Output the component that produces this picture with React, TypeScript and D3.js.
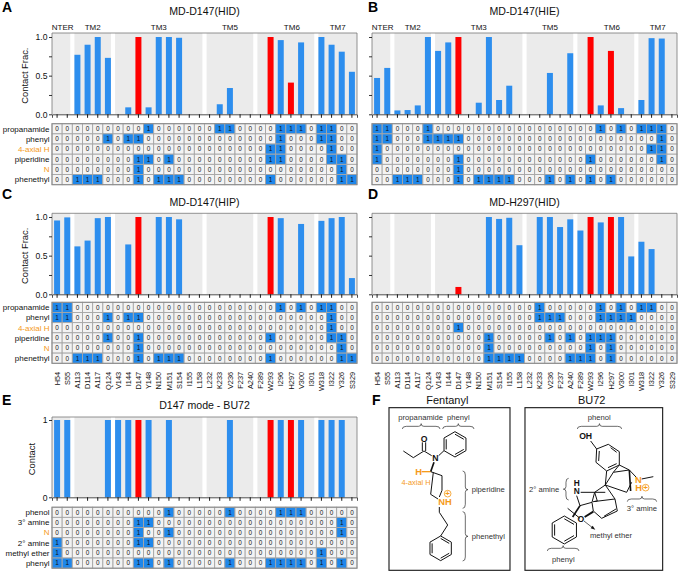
import React, { useEffect, useRef } from 'react'
import * as d3 from 'd3'

const residues = ['H54','S55','A113','D114','A117','Q124','V143','I144','D147','Y148','N150','M151','S154','I155','L158','L232','K233','V236','F237','A240','F289','W293','I296','H297','V300','I301','W318','I322','Y326','S329']
const redResidues = ['D147', 'W293', 'H297']

// transmembrane groups: first and last residue
const tmGroups = [
  { name: 'NTER', first: 'H54', last: 'S55' },
  { name: 'TM2', first: 'A113', last: 'Q124' },
  { name: 'TM3', first: 'V143', last: 'L158' },
  { name: 'TM5', first: 'L232', last: 'A240' },
  { name: 'TM6', first: 'F289', last: 'I301' },
  { name: 'TM7', first: 'W318', last: 'S329' },
]

const fentanylRows = ['propanamide', 'phenyl', '4-axial H', 'piperidine', 'N', 'phenethyl']
const bu72Rows = ['phenol', '3° amine', 'N', '2° amine', 'methyl ether', 'phenyl']

const hidFrac = [0,0,0.77,0.9,1,0.73,0,0.09,1,0.09,1,1,0.99,0,0,0,0.13,0.34,0,0,0,1,0.96,0.41,0.93,0,1,0.9,0.81,0.55]
const hieFrac = [0.47,0.6,0.05,0.055,0.115,1,0.82,0.93,1,0,0.15,1,0.185,0.37,0,0,0,0.535,0,0.79,0,1,0.115,0.82,0.08,0,0.185,0.985,0.98,0]
const hipFrac = [0.955,0.995,0.62,0.695,0.985,1,0,0.645,1,0,1,1,0.97,0,0,0,0,0,0,0,0,1,0.985,0,0.91,0,0.95,0.985,1,0.21]
const h297Frac = [0,0,0,0,0,0,0,0,0.095,0,0,1,0.975,0.99,0.635,0,1,1,0.87,0.97,0.825,1,0.93,1,1,0.49,0.68,0.585,0,0]
const bu72Contact = [1,1,0,0,0,1,1,1,1,1,0,1,0,0,0,0,0,1,0,0,0,1,1,1,1,0,1,1,1,0]

// indices of the cells holding a 1, one list per row
const hidCells = [
  [9,16,17,22,23,24,26,27],
  [5,7,8,22,26,27],
  [21,22,27],
  [8,9,11,21,22,27,28],
  [8,28],
  [2,3,4,8,10,11,12,21,28,29],
]
const hieCells = [
  [0,1,5,22,24,26,27,28],
  [0,1,5,6,7,8,28],
  [0,27,28],
  [0,8,21,28],
  [8],
  [2,3,4,8,10,11,12,13,17,19,21,23],
]
const hipCells = [
  [0,1,22,24,26,27],
  [0,1,5,7,8,27],
  [27],
  [5,8,21,27,28],
  [8,28],
  [2,3,4,8,10,11,12,21,28,29],
]
const h297Cells = [
  [16,22,24,26,27],
  [16,17,18,22,23,24,25],
  [8],
  [11,17,19,21,22,23],
  [11,21,23],
  [11,12,13,14,19,20,21,23],
]
const bu72Cells = [
  [11,17,22,23,24],
  [8,9,28],
  [8,11,28],
  [0,8,9],
  [0,26],
  [0,1,8,9,11,17,21,22,23,24,26,28],
]

const BLUE = '#2d8eee'
const CELL_BLUE = '#1f87ea'
const RED = '#ff0000'
const ORANGE = '#f59a1b'
const FONT = '"Liberation Sans", Arial, sans-serif'

const drawPanel = (svg, p) => {
  const width = 305
  const x = d3.scaleBand().domain(residues).range([p.left, p.left + width]).paddingInner(0.41).paddingOuter(0.205)
  const cellX = d3.scaleBand().domain(residues).range([p.left, p.left + width])
  const y = d3.scaleLinear().domain([0, 1]).range([p.zero, p.one])
  const g = svg.append('g').style('font-family', FONT)

  // TM background bands
  const bg = x.bandwidth()
  tmGroups.forEach((t, i) => {
    const x0 = i === 0 ? p.left : x(t.first)
    const x1 = i === tmGroups.length - 1 ? p.left + width : x(t.last) + bg
    g.append('rect').attr('x', x0).attr('y', p.top).attr('width', x1 - x0).attr('height', p.zero - p.top).attr('fill', '#ebebeb')
    if (p.showTm) {
      const nudge = t.name === 'TM6' ? 6 : t.name === 'NTER' ? 1.5 : 0
      g.append('text').attr('x', (x0 + x1) / 2 + nudge).attr('y', p.top - 3.5).attr('text-anchor', 'middle')
        .attr('font-size', 8).attr('fill', '#111').text(t.name)
    }
  })

  g.selectAll('rect.bar').data(p.values).enter().append('rect')
    .attr('class', 'bar')
    .attr('x', (d, i) => x(residues[i]))
    .attr('y', (d) => y(d))
    .attr('width', bg)
    .attr('height', (d) => p.zero - y(d))
    .attr('fill', (d, i) => (redResidues.includes(residues[i]) ? RED : BLUE))

  // frame
  g.append('path').attr('d', `M${p.left},${p.zero}V${p.top}H${p.left + width}V${p.zero}`)
    .attr('fill', 'none').attr('stroke', '#777').attr('stroke-width', 0.8)

  const xAxis = d3.axisBottom(x).tickSize(3.5).tickFormat(() => '')
  const gx = g.append('g').attr('transform', `translate(0,${p.zero})`).call(xAxis)
  gx.select('.domain').attr('stroke', '#222').attr('stroke-width', 0.8)
  gx.selectAll('.tick line').attr('stroke', '#000').attr('stroke-width', 0.9)

  const yAxis = d3.axisLeft(y).tickValues(p.ticks).tickSize(3).tickFormat((d) => (p.labelTicks.includes(d) ? p.fmt(d) : ''))
  const gy = g.append('g').attr('transform', `translate(${p.left},0)`).call(yAxis)
  gy.select('.domain').remove()
  gy.selectAll('.tick line').attr('stroke', '#000').attr('stroke-width', 0.8)
  gy.selectAll('.tick text').attr('font-size', 8.6).attr('font-family', FONT).attr('fill', '#111').attr('x', -4.5)
  if (!p.showY) gy.selectAll('.tick text').remove()

  if (p.yTitle) {
    g.append('text').attr('transform', `translate(${p.yTitleX},${(p.top + p.zero) / 2 + 2}) rotate(-90)`)
      .attr('text-anchor', 'middle').attr('font-size', 9.4).attr('fill', '#111').text(p.yTitle)
  }

  g.append('text').attr('x', p.left + width / 2).attr('y', p.titleY).attr('text-anchor', 'middle')
    .attr('font-size', 10.6).attr('fill', '#111').text(p.title)
  g.append('text').attr('x', p.letterX).attr('y', p.letterY).attr('font-size', 14).attr('font-weight', 'bold').attr('fill', '#000').text(p.letter)

  // contact grid
  const rowY = d3.scaleBand().domain(p.rows).range([p.heatTop, p.heatTop + 61])
  const frame = g.append('g')
  p.rows.forEach((r, ri) => {
    residues.forEach((res, ci) => {
      const on = p.cells[ri].includes(ci)
      frame.append('rect').attr('x', cellX(res)).attr('y', rowY(r)).attr('width', cellX.bandwidth()).attr('height', rowY.bandwidth())
        .attr('fill', on ? CELL_BLUE : '#f3f3f3').attr('stroke', '#a6a6a6').attr('stroke-width', 0.9)
      frame.append('text').attr('x', cellX(res) + cellX.bandwidth() / 2).attr('y', rowY(r) + rowY.bandwidth() / 2 + 2.3)
        .attr('text-anchor', 'middle').attr('font-size', 6.4).attr('fill', '#111').text(on ? '1' : '0')
    })
    if (p.showRows) {
      g.append('text').attr('x', p.left - 2.5).attr('y', rowY(r) + rowY.bandwidth() / 2 + 2.8).attr('text-anchor', 'end')
        .attr('font-size', 8).attr('fill', r === '4-axial H' || r === 'N' ? ORANGE : '#111').text(r)
    }
  })
  g.append('rect').attr('x', p.left).attr('y', p.heatTop).attr('width', width).attr('height', 61)
    .attr('fill', 'none').attr('stroke', '#8a8a8a').attr('stroke-width', 1)

  if (p.showResidues) {
    residues.forEach((res) => {
      g.append('text').attr('transform', `translate(${cellX(res) + cellX.bandwidth() / 2 + 2.6},${p.heatTop + 69.5}) rotate(-90)`)
        .attr('text-anchor', 'end').attr('font-size', 7.4).attr('fill', '#111').text(res)
    })
  }
}

// schematic structures, drawn in a local 3x coordinate frame
const drawStructures = (svg) => {
  const g = svg.append('g').attr('transform', 'translate(380,385) scale(0.3333)').style('font-family', FONT)
  const bond = (pts, w = 3, color = '#111') =>
    g.append('path').attr('d', d3.line()(pts)).attr('fill', 'none').attr('stroke', color).attr('stroke-width', w).attr('stroke-linejoin', 'round')
  const label = (s, xx, yy, o: any = {}) =>
    g.append('text').attr('x', xx).attr('y', yy).attr('text-anchor', o.anchor ?? 'middle').attr('font-size', o.size ?? 23)
      .attr('font-weight', o.bold ? 'bold' : 'normal').attr('fill', o.color ?? '#333').text(s)
  const ring = (cx, cy, r, flip = 0) => {
    const pts = d3.range(7).map((i) => {
      const a = (Math.PI / 3) * i + flip
      return [cx + r * Math.sin(a), cy - r * Math.cos(a)]
    })
    bond(pts)
    ;[0, 2, 4].forEach((i) => {
      const k = 0.8
      bond([
        [cx + (pts[i][0] - cx) * k, cy + (pts[i][1] - cy) * k],
        [cx + (pts[i + 1][0] - cx) * k, cy + (pts[i + 1][1] - cy) * k],
      ])
    })
  }
  const braceH = (x0, x1, yy) => {
    const m = (x0 + x1) / 2
    g.append('path').attr('d', `M${x0},${yy + 8}Q${x0},${yy} ${x0 + 12},${yy}H${m - 8}Q${m},${yy} ${m},${yy - 8}Q${m},${yy} ${m + 8},${yy}H${x1 - 12}Q${x1},${yy} ${x1},${yy + 8}`)
      .attr('fill', 'none').attr('stroke', '#222').attr('stroke-width', 2)
  }
  const braceV = (xx, y0, y1, dir) => {
    const m = (y0 + y1) / 2
    g.append('path').attr('d', `M${xx - 8 * dir},${y0}Q${xx},${y0} ${xx},${y0 + 12}V${m - 8}Q${xx},${m} ${xx + 8 * dir},${m}Q${xx},${m} ${xx},${m + 8}V${y1 - 12}Q${xx},${y1} ${xx - 8 * dir},${y1}`)
      .attr('fill', 'none').attr('stroke', '#222').attr('stroke-width', 2)
  }
  const box = (x0, x1) =>
    g.append('rect').attr('x', x0).attr('y', 68).attr('width', x1 - x0).attr('height', 488).attr('fill', 'none').attr('stroke', '#222').attr('stroke-width', 3.5)

  box(27, 390)
  box(435, 848)
  label('Fentanyl', 202, 58, { size: 33, color: '#111' })
  label('BU72', 635, 58, { size: 33, color: '#111' })

  // fentanyl
  label('propanamide', 122, 106)
  label('phenyl', 235, 106)
  braceH(67, 180, 124)
  braceH(188, 282, 124)
  bond([[70, 198], [100, 218], [132, 198], [155, 212]])
  bond([[127, 198], [127, 172]])
  bond([[137, 198], [137, 172]])
  label('O', 132, 171, { size: 26, bold: true, color: '#111' })
  label('N', 166, 227, { size: 26, bold: true, color: '#111' })
  bond([[176, 212], [192, 197]])
  ring(225, 178, 38)
  bond([[162, 232], [152, 260]], 5)
  bond([[125, 260], [152, 260]], 4, ORANGE)
  label('H', 116, 270, { size: 28, bold: true, color: ORANGE })
  label('4-axial H', 108, 299, { size: 22, color: ORANGE })
  bond([[152, 260], [186, 272], [186, 316], [178, 336]])
  bond([[160, 262], [152, 328], [174, 342]])
  label('NH', 195, 361, { size: 28, bold: true, color: ORANGE })
  g.append('circle').attr('cx', 203).attr('cy', 326).attr('r', 10).attr('fill', 'none').attr('stroke', ORANGE).attr('stroke-width', 2.5)
  label('+', 203, 334, { size: 24, bold: true, color: ORANGE })
  bond([[178, 366], [178, 382], [203, 420], [182, 453]])
  ring(182, 490, 37)
  braceV(256, 258, 370, 1)
  label('piperidine', 275, 320, { anchor: 'start' })
  braceV(256, 380, 528, 1)
  label('phenethyl', 275, 461, { anchor: 'start' })

  // BU72
  label('phenol', 658, 106)
  braceH(592, 725, 124)
  label('OH', 617, 163, { size: 26, bold: true, color: '#111' })
  bond([[632, 168], [650, 192]])
  bond([[650, 192], [685, 178], [718, 200], [718, 240], [680, 258], [648, 232], [650, 192]])
  bond([[692, 188], [710, 202]])
  bond([[710, 236], [684, 248]])
  bond([[656, 228], [658, 198]])
  bond([[718, 240], [748, 255], [770, 278]])
  bond([[680, 258], [676, 300]])
  bond([[700, 262], [676, 300], [740, 322], [755, 292]])
  bond([[718, 240], [700, 262], [748, 255]])
  bond([[748, 255], [752, 318]], 5)
  bond([[785, 282], [820, 275]])
  label('N', 775, 295, { size: 28, bold: true, color: ORANGE })
  label('H', 776, 318, { size: 28, bold: true, color: ORANGE })
  g.append('circle').attr('cx', 797).attr('cy', 308).attr('r', 10).attr('fill', 'none').attr('stroke', ORANGE).attr('stroke-width', 2.5)
  label('+', 797, 316, { size: 24, bold: true, color: ORANGE })
  label('3° amine', 786, 379)
  braceH(742, 830, 342)
  label('H', 590, 302, { size: 25, bold: true, color: '#111' })
  label('N', 590, 327, { size: 25, bold: true, color: '#111' })
  bond([[602, 322], [676, 322]])
  bond([[676, 300], [644, 322], [652, 348], [640, 350]])
  bond([[590, 332], [600, 362], [636, 352]])
  bond([[644, 322], [636, 352], [640, 378], [665, 400], [712, 378], [705, 342], [676, 300]])
  bond([[672, 394], [708, 372]])
  bond([[705, 342], [640, 350]])
  bond([[600, 362], [578, 396]], 5)
  bond([[640, 380], [614, 396]], 6)
  bond([[563, 370], [600, 400]])
  label('O', 603, 411, { size: 26, bold: true, color: '#111' })
  ring(553, 435, 42)
  bond([[612, 408], [640, 430]], 2)
  g.append('path').attr('d', 'M646,434L632,430L638,422Z').attr('fill', '#111')
  label('methyl ether', 693, 458)
  label('phenyl', 550, 530)
  braceH(502, 597, 490)
  label('2° amine', 447, 320, { anchor: 'start' })
  braceV(558, 280, 345, -1)
}

const App = () => {
  const refSvg = useRef(null)

  useEffect(() => {
    const svg = d3.select(refSvg.current)
    svg.selectAll('*').remove()
    const frac = (d) => d3.format('.1f')(d)
    const fracTicks = [0, 0.25, 0.5, 0.75, 1]
    const row1 = { top: 33, zero: 114.3, one: 37, heatTop: 123.7, titleY: 15, showTm: true, showResidues: false, letterY: 12 }
    const row2 = { top: 213.3, zero: 294.3, one: 217, heatTop: 302.3, titleY: 206, showTm: false, showResidues: true, letterY: 199 }

    drawPanel(svg, { ...row1, left: 52, values: hidFrac, cells: hidCells, rows: fentanylRows, title: 'MD-D147(HID)', letter: 'A', letterX: 2, showY: true, showRows: true, yTitle: 'Contact Frac.', yTitleX: 28, ticks: fracTicks, labelTicks: [0, 0.5, 1], fmt: frac })
    drawPanel(svg, { ...row1, left: 372, values: hieFrac, cells: hieCells, rows: fentanylRows, title: 'MD-D147(HIE)', letter: 'B', letterX: 368, showY: false, showRows: false, ticks: fracTicks, labelTicks: [0, 0.5, 1], fmt: frac })
    drawPanel(svg, { ...row2, left: 52, values: hipFrac, cells: hipCells, rows: fentanylRows, title: 'MD-D147(HIP)', letter: 'C', letterX: 2, showY: true, showRows: true, yTitle: 'Contact Frac.', yTitleX: 28, ticks: fracTicks, labelTicks: [0, 0.5, 1], fmt: frac })
    drawPanel(svg, { ...row2, left: 372, values: h297Frac, cells: h297Cells, rows: fentanylRows, title: 'MD-H297(HID)', letter: 'D', letterX: 368, showY: false, showRows: false, ticks: fracTicks, labelTicks: [0, 0.5, 1], fmt: frac })
    drawPanel(svg, { top: 417, zero: 497.3, one: 420, heatTop: 507.2, titleY: 409, showTm: false, showResidues: false, letterY: 405, left: 52, values: bu72Contact, cells: bu72Cells, rows: bu72Rows, title: 'D147 mode - BU72', letter: 'E', letterX: 2, showY: true, showRows: true, yTitle: 'Contact', yTitleX: 35, ticks: [0, 1], labelTicks: [0, 1], fmt: (d) => String(d) })
    svg.append('text').attr('x', 372).attr('y', 405).attr('font-size', 14).attr('font-weight', 'bold').style('font-family', FONT).text('F')
    drawStructures(svg)
  }, [])

  return <svg ref={refSvg} width={680} height={573} style={{ position: 'absolute', left: 0, top: 0 }}></svg>
}

export default App
